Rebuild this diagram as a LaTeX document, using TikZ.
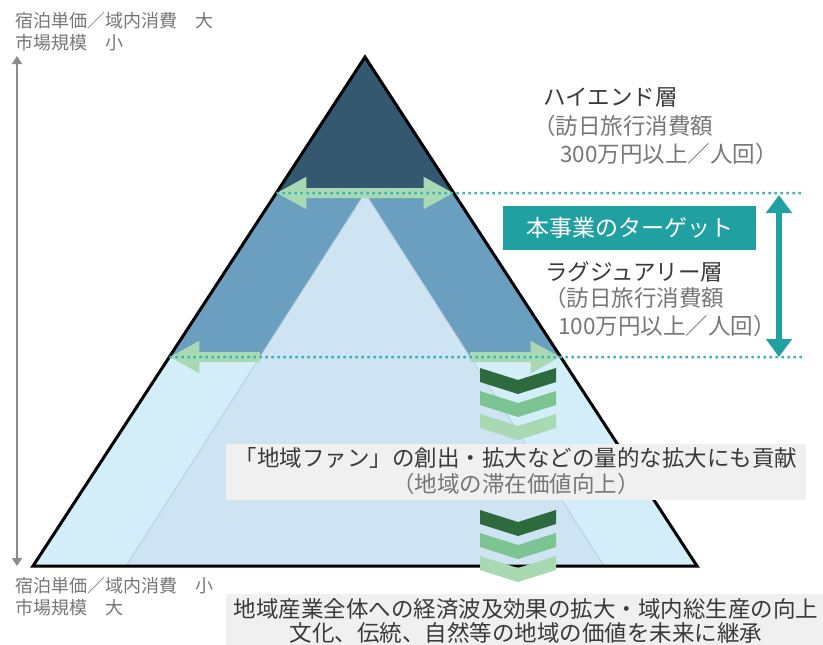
\documentclass[tikz,border=0pt]{standalone}
\usepackage{fontspec}
\setmainfont{Noto Sans CJK JP}
\usetikzlibrary{arrows.meta, calc, positioning}

\definecolor{topblue}{HTML}{335870}
\definecolor{midblue}{HTML}{6B9FC0}
\definecolor{lowblue}{HTML}{D3EEF9}
\definecolor{innerblue}{HTML}{CFE4F3}
\definecolor{inneredge}{HTML}{B4CCDC}
\definecolor{lightgreen}{HTML}{A9D9B2}
\definecolor{midgreen}{HTML}{7CC492}
\definecolor{darkgreen}{HTML}{2D6A3E}
\definecolor{teal}{HTML}{20A0A0}
\definecolor{tealdot}{HTML}{3AB4B8}
\definecolor{darktext}{HTML}{3A3A3A}
\definecolor{graytext}{HTML}{767676}
\definecolor{axisgray}{HTML}{8C8C8C}
\definecolor{boxgray}{HTML}{F0F0F0}

\tikzset{
    lbl/.style={anchor=west, inner sep=0pt, text=darktext, font=\fontsize{22.5}{26}\selectfont},
    sublbl/.style={lbl, text=graytext},
    axislbl/.style={anchor=west, inner sep=0pt, text=graytext, font=\fontsize{18}{20}\selectfont},
    midlbl/.style={anchor=center, inner sep=0pt, text=darktext, font=\fontsize{22.5}{26}\selectfont},
    grayfill/.style={fill=boxgray, draw=none},
    tealbox/.style={fill=teal, text=white, inner sep=0pt, minimum width=253pt, minimum height=44pt,
        font=\fontsize{23}{26}\selectfont},
    growarrow/.style={draw=lightgreen, line width=10pt, -{Triangle[width=30pt, length=30pt]}},
    levelline/.style={draw=tealdot, line width=2.5pt, dash pattern=on 2.5pt off 3.5pt},
    targetarrow/.style={draw=teal, line width=6pt, {Triangle[width=25pt, length=18pt]}-{Triangle[width=25pt, length=18pt]}},
    axisarrow/.style={draw=axisgray, line width=2pt, {Triangle[width=10pt, length=8pt]}-{Triangle[width=10pt, length=8pt]}}
}

\begin{document}
\begin{tikzpicture}[x=1pt, y=-1pt]
    \useasboundingbox (0,0) rectangle (823,645);

    \coordinate (A) at (365,57);
    \coordinate (L) at (33,566);
    \coordinate (R) at (697,566);
    \coordinate (I) at (365,193);
    \coordinate (IL) at (126,566);
    \coordinate (IR) at (604,566);

    \begin{scope}
        \clip (A) -- (L) -- (R) -- cycle;
        \fill[lowblue] (0,0) rectangle (823,645);
        \fill[topblue] (0,0) rectangle (823,193);
        \fill[midblue] (0,193) rectangle (823,357);
        \filldraw[fill=innerblue, draw=inneredge, line width=0.8pt] (I) -- (IL) -- (IR) -- cycle;
    \end{scope}
    \draw[line width=3pt, line join=miter] (A) -- (L) -- (R) -- cycle;

    \coordinate (U1) at ($(A)!0.2672!(L)$);
    \coordinate (U2) at ($(A)!0.2672!(R)$);
    \coordinate (V1) at ($(A)!0.5894!(L)$);
    \coordinate (V2) at ($(A)!0.5894!(R)$);
    \coordinate (W1) at ($(I)!0.4397!(IL)$);
    \coordinate (W2) at ($(I)!0.4397!(IR)$);
    \coordinate (D1) at (803,193);
    \coordinate (D2) at (803,357);

    \draw[growarrow] (I) -- (U1);
    \draw[growarrow] (I) -- (U2);
    \draw[growarrow] (W1) -- (V1);
    \draw[growarrow] (W2) -- (V2);

    \draw[levelline] (U1) -- (D1);
    \draw[levelline] (V1) -- (D2);

    \foreach \y/\c in {368/darkgreen, 391/midgreen, 414/lightgreen, 510/darkgreen, 533/midgreen, 556/lightgreen}
        \fill[\c] (480,\y) -- (518,\y+12) -- (556,\y) -- (556,\y+14) -- (518,\y+26) -- (480,\y+14) -- cycle;

    \coordinate (T1) at (779,195);
    \coordinate (T2) at (779,357);
    \draw[targetarrow] (T1) -- (T2);
    \node[tealbox] (Target) at (629.5,228) {本事業のターゲット};

    \coordinate (G1) at (17,56);
    \coordinate (G2) at (17,566);
    \draw[axisarrow] (G1) -- (G2);

    \node[axislbl] (Ntop1) at (15,20.5) {宿泊単価／域内消費　大};
    \node[axislbl] (Ntop2) at (15,42.5) {市場規模　小};
    \node[axislbl] (Nbot1) at (15,585.5) {宿泊単価／域内消費　小};
    \node[axislbl] (Nbot2) at (15,607.5) {市場規模　大};

    \node[lbl] (Nhigh) at (543,97.5) {ハイエンド層};
    \node[sublbl] (Nhigh2) at (533,126) {（訪日旅行消費額};
    \node[sublbl] (Nhigh3) at (560,154) {300万円以上／人回）};

    \node[lbl] (Nlux) at (545,272) {ラグジュアリー層};
    \node[sublbl] (Nlux2) at (544,297.5) {（訪日旅行消費額};
    \node[sublbl] (Nlux3) at (558,326) {100万円以上／人回）};

    \fill[grayfill] (226,444) rectangle (806,500);
    \node[midlbl] (Nfan) at (516,458) {「地域ファン」の創出・拡大などの量的な拡大にも貢献};
    \node[midlbl, text=graytext] (Nfan2) at (516,484) {（地域の滞在価値向上）};

    \fill[grayfill] (226,594) rectangle (823,645);
    \node[midlbl] (Neco) at (526,609) {地域産業全体への経済波及効果の拡大・域内総生産の向上};
    \node[midlbl] (Neco2) at (526,633) {文化、伝統、自然等の地域の価値を未来に継承};
\end{tikzpicture}
\end{document}
